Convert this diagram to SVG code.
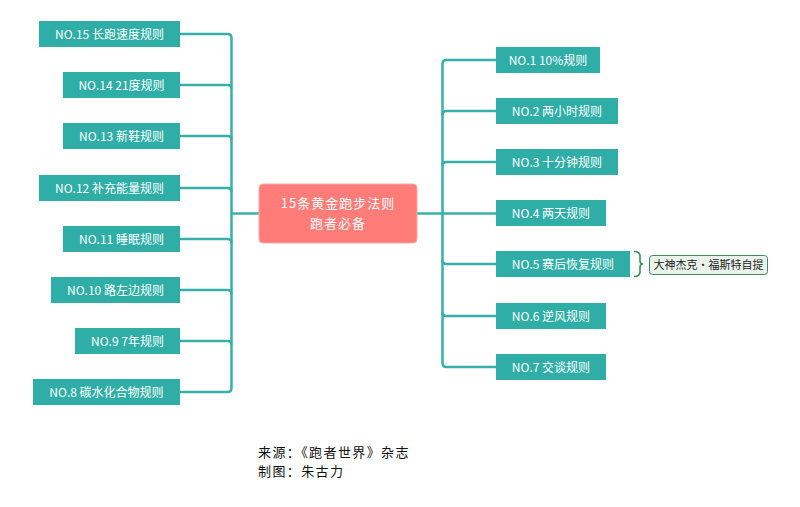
<svg xmlns="http://www.w3.org/2000/svg" width="800" height="507" viewBox="0 0 800 507">
<style>
.box{fill:#2eaea6;}
.t{font-family:"Noto Sans CJK SC","Liberation Sans",sans-serif;font-size:12px;fill:#ffffff;text-anchor:middle;}
.c{fill:none;stroke:#36b1a9;stroke-width:2.5;}
.ft{font-family:"Noto Sans CJK SC","Liberation Sans",sans-serif;font-size:13px;letter-spacing:1.4px;fill:#111;}
.ct{font-family:"Noto Sans CJK SC","Liberation Sans",sans-serif;font-size:13px;letter-spacing:1px;fill:#fff;text-anchor:middle;}
</style>
<rect width="800" height="507" fill="#ffffff"/>
<g id="connectors">
<path class="c" d="M180,34 H227.5 Q231.5,34 231.5,38 V388 Q231.5,392 227.5,392 H180"/>
<path class="c" d="M180,85 H227.5 Q231.5,85 231.5,89"/>
<path class="c" d="M180,136 H227.5 Q231.5,136 231.5,140"/>
<path class="c" d="M180,188 H227.5 Q231.5,188 231.5,192"/>
<path class="c" d="M180,239 H227.5 Q231.5,239 231.5,243"/>
<path class="c" d="M180,290 H227.5 Q231.5,290 231.5,294"/>
<path class="c" d="M180,341 H227.5 Q231.5,341 231.5,345"/>
<path class="c" d="M231.5,213.5 H259" stroke-width="3"/>
<path class="c" d="M417,213.5 H442.5" stroke-width="3"/>
<path class="c" d="M496,60 H446.5 Q442.5,60 442.5,64 V363 Q442.5,367 446.5,367 H496"/>
<path class="c" d="M496,111 H446.5 Q442.5,111 442.5,115"/>
<path class="c" d="M496,162 H446.5 Q442.5,162 442.5,166"/>
<path class="c" d="M496,213.5 H442.5"/>
<path class="c" d="M496,264 H446.5 Q442.5,264 442.5,260"/>
<path class="c" d="M496,316 H446.5 Q442.5,316 442.5,312"/>
</g>
<g id="center">
<rect x="259" y="184" width="158" height="59" rx="4" fill="#ff7c78" stroke="#ffa8a5" stroke-width="1"/>
<text class="ct" x="338" y="208">15条黄金跑步法则</text>
<text class="ct" x="338" y="227.5">跑者必备</text>
</g>
<g id="n15"><rect class="box" x="39" y="21" width="141" height="26"/><text class="t" x="109.5" y="38.5">NO.15 长跑速度规则</text></g>
<g id="n14"><rect class="box" x="63" y="72" width="117" height="26"/><text class="t" x="121.5" y="89.5">NO.14 21度规则</text></g>
<g id="n13"><rect class="box" x="63" y="123" width="117" height="26"/><text class="t" x="121.5" y="140.5">NO.13 新鞋规则</text></g>
<g id="n12"><rect class="box" x="39" y="175" width="141" height="26"/><text class="t" x="109.5" y="192.5">NO.12 补充能量规则</text></g>
<g id="n11"><rect class="box" x="63" y="226" width="117" height="26"/><text class="t" x="121.5" y="243.5">NO.11 睡眠规则</text></g>
<g id="n10"><rect class="box" x="51" y="277" width="129" height="26"/><text class="t" x="115.5" y="294.5">NO.10 路左边规则</text></g>
<g id="n9"><rect class="box" x="75" y="328" width="105" height="26"/><text class="t" x="127.5" y="345.5">NO.9 7年规则</text></g>
<g id="n8"><rect class="box" x="33" y="379" width="147" height="26"/><text class="t" x="106.5" y="396.5">NO.8 碳水化合物规则</text></g>
<g id="n1"><rect class="box" x="496" y="47" width="104" height="26"/><text class="t" x="548" y="64.5">NO.1 10%规则</text></g>
<g id="n2"><rect class="box" x="496" y="98" width="122" height="26"/><text class="t" x="557" y="115.5">NO.2 两小时规则</text></g>
<g id="n3"><rect class="box" x="496" y="149" width="122" height="26"/><text class="t" x="557" y="166.5">NO.3 十分钟规则</text></g>
<g id="n4"><rect class="box" x="496" y="200" width="110" height="26"/><text class="t" x="551" y="217.5">NO.4 两天规则</text></g>
<g id="n5"><rect class="box" x="496" y="251" width="134" height="26"/><text class="t" x="563" y="268.5">NO.5 赛后恢复规则</text></g>
<g id="n6"><rect class="box" x="496" y="303" width="110" height="26"/><text class="t" x="551" y="320.5">NO.6 逆风规则</text></g>
<g id="n7"><rect class="box" x="496" y="354" width="110" height="26"/><text class="t" x="551" y="371.5">NO.7 交谈规则</text></g>
<g id="note">
<path d="M634,251.5 Q640,251.5 640,256 V261 Q640,264 643,264 Q640,264 640,267 V272 Q640,276.5 634,276.5" fill="none" stroke="#3b8c5c" stroke-width="1.6"/>
<rect x="649.5" y="255.5" width="118" height="19" rx="3" fill="#e9f3ec" stroke="#3b8c5c" stroke-width="1"/>
<text x="708.5" y="269" font-family="Noto Sans CJK SC,Liberation Sans,sans-serif" font-size="11" fill="#222" text-anchor="middle">大神杰克·福斯特自提</text>
</g>
<g id="footer">
<text class="ft" x="258" y="457">来源：《跑者世界》杂志</text>
<text class="ft" x="258" y="476">制图：朱古力</text>
</g>
</svg>
